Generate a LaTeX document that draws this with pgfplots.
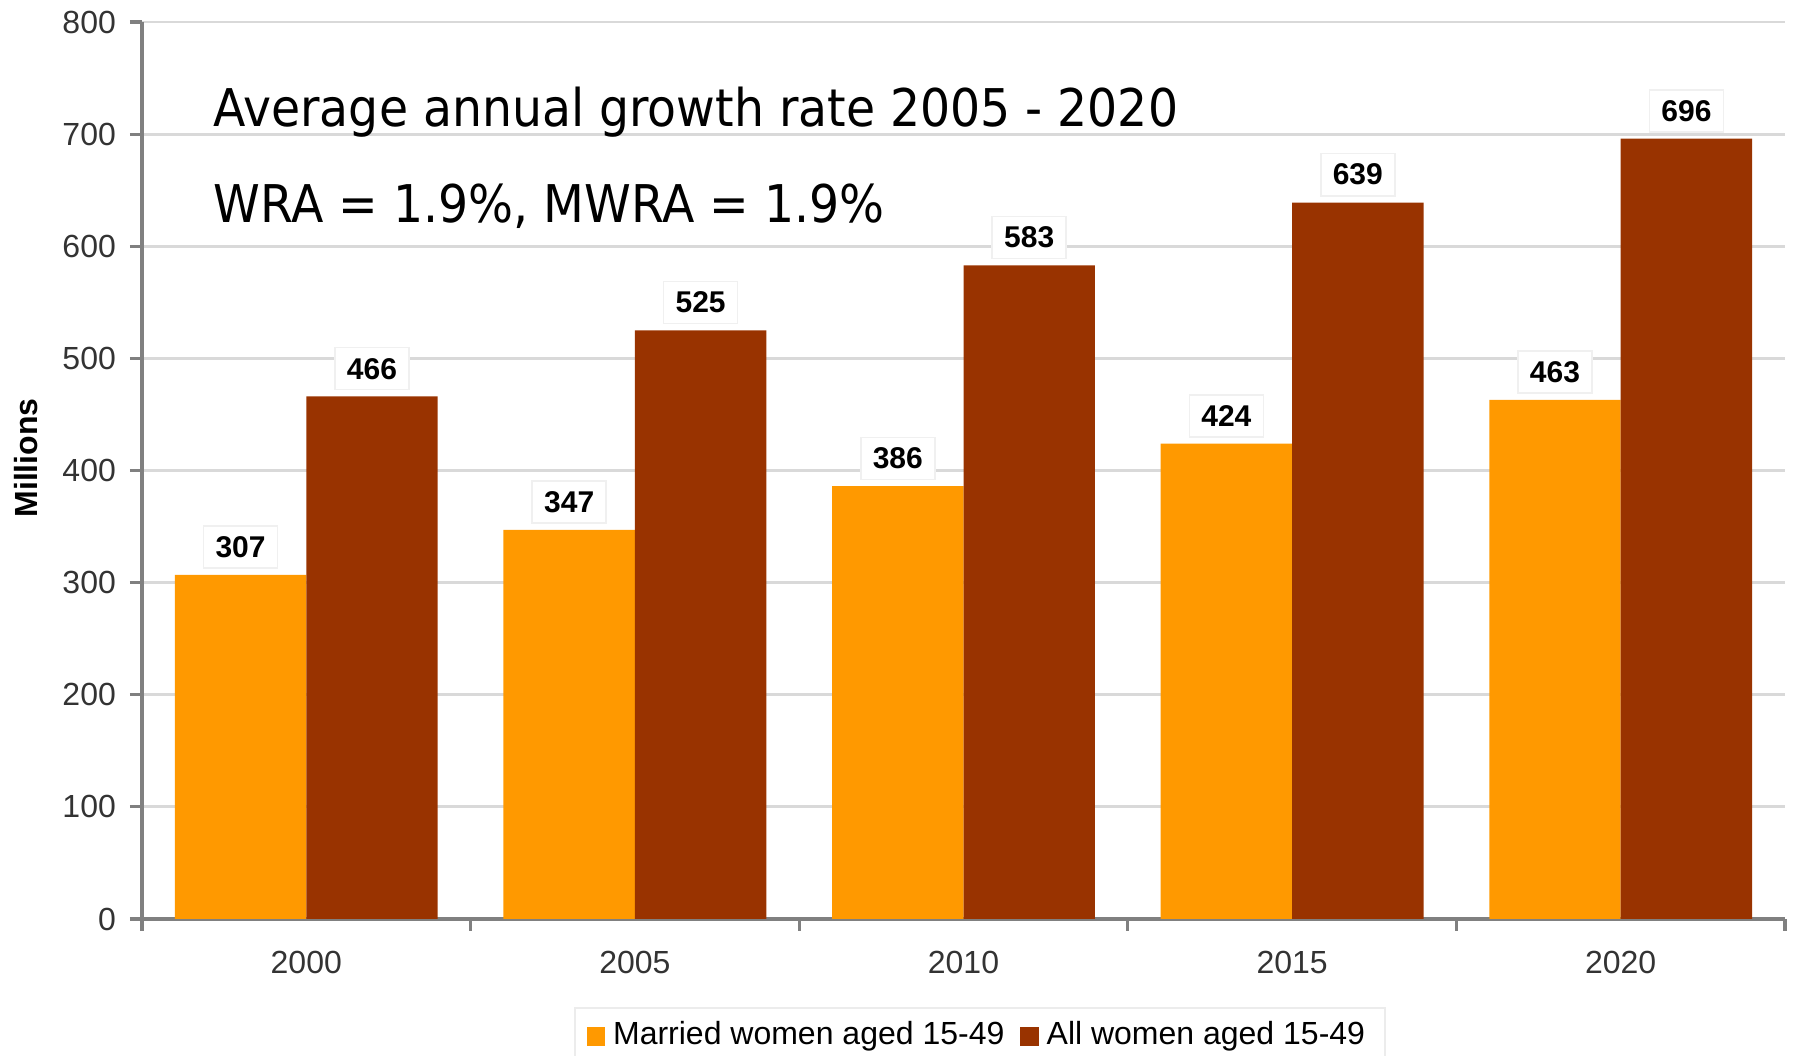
\documentclass[border=0pt]{standalone}
\usepackage{fontspec}
\setmainfont{Liberation Sans}
\newfontfamily\annfont[FakeStretch=0.91]{DejaVu Sans}
\usepackage{pgfplots}
\pgfplotsset{compat=1.18}
\definecolor{marriedColor}{HTML}{FF9900}
\definecolor{allColor}{HTML}{993300}
\definecolor{tickText}{HTML}{333333}
\definecolor{axisGray}{HTML}{808080}
\definecolor{gridGray}{HTML}{D9D9D9}

\begin{document}
\begin{tikzpicture}
    \begin{axis}[
        ybar=0pt,
        bar width=0.4,
        scale only axis,
        width=410.75pt,
        height=224.25pt,
        xmin=-0.5, xmax=4.5,
        ymin=0, ymax=800,
        xtick={0,1,2,3,4},
        xticklabels={2000,2005,2010,2015,2020},
        minor xtick={-0.5,0.5,1.5,2.5,3.5,4.5},
        ytick={0,100,...,800},
        axis x line*=bottom,
        axis y line*=left,
        axis line style={axisGray, line width=0.8pt},
        tick align=outside,
        major tick length=3pt,
        minor tick length=3pt,
        major x tick style={draw=none},
        minor x tick style={axisGray, line width=0.8pt},
        ytick style={axisGray, line width=0.8pt},
        ymajorgrids=true,
        major grid style={gridGray, line width=0.7pt},
        tick label style={font=\fontsize{8}{9.6}\selectfont, text=tickText},
        xticklabel style={yshift=-1.5pt},
        /pgf/number format/assume math mode=true,
        ylabel={Millions},
        ylabel style={at={(axis description cs:-0.0706,0.514)}, anchor=center, font=\bfseries\fontsize{8}{9.6}\selectfont},
        nodes near coords,
        every node near coord/.append style={font=\bfseries\fontsize{7.5}{9}\selectfont, fill=white, draw=gray!12, inner xsep=3pt, inner ysep=2.6pt, anchor=south, yshift=1.5pt},
        legend style={at={(axis description cs:0.263,-0.098)}, anchor=north west, draw=gray!15, font=\fontsize{8}{9.6}\selectfont, legend columns=-1, /tikz/every even column/.append style={column sep=2pt}, inner xsep=3pt, inner ysep=1.5pt},
        legend image code/.code={\fill[#1, draw=none] (0cm,-0.085cm) rectangle (0.16cm,0.085cm);},
        legend cell align=left,
        clip=false,
    ]
    \addplot[fill=marriedColor, draw=none] coordinates {(0,307) (1,347) (2,386) (3,424) (4,463)};
    \addplot[fill=allColor, draw=none] coordinates {(0,466) (1,525) (2,583) (3,639) (4,696)};
    \legend{Married women aged 15-49, All women aged 15-49}
    \node[anchor=base west, font=\annfont\fontsize{13}{15}\selectfont, inner sep=0pt] at (axis cs:-0.284,707) {Average annual growth rate 2005 - 2020};
    \node[anchor=base west, font=\annfont\fontsize{13}{15}\selectfont, inner sep=0pt] at (axis cs:-0.284,621) {WRA = 1.9\%, MWRA = 1.9\%};
    \end{axis}
    \pgfresetboundingbox
    \path[use as bounding box] ([xshift=-35.5pt, yshift=-34.25pt]current axis.south west) rectangle ([xshift=2.25pt, yshift=5.5pt]current axis.north east);
\end{tikzpicture}
\end{document}
